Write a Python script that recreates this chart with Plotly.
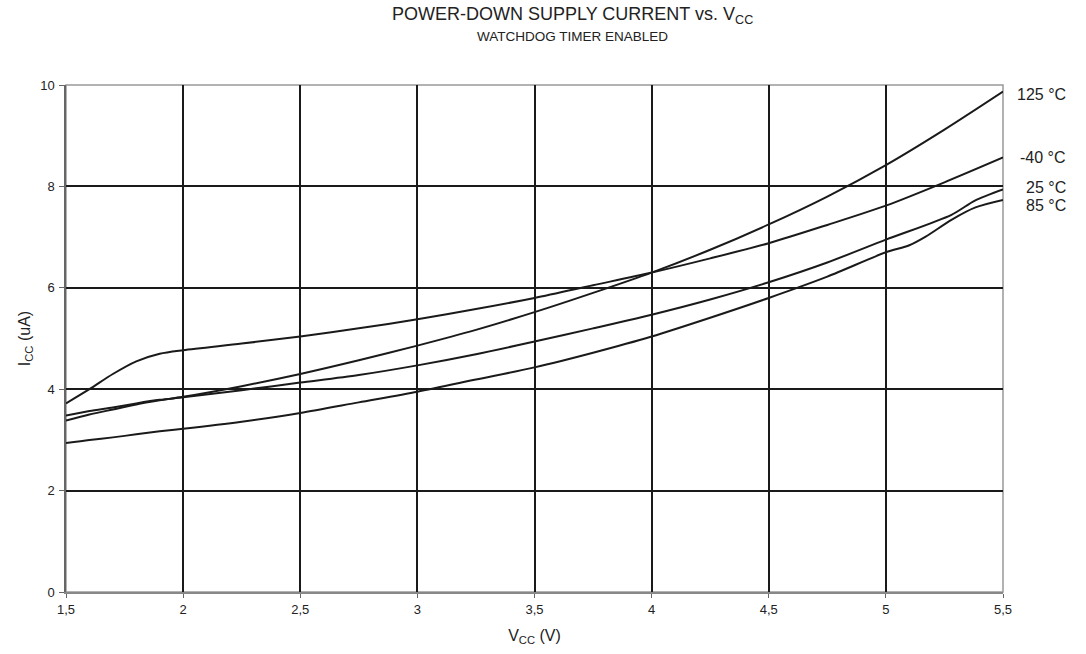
import plotly.graph_objects as go

V = [1.5, 1.6, 1.7, 1.8, 1.9, 2.0, 2.25, 2.5, 2.75, 3.0, 3.25, 3.5, 3.75, 4.0, 4.25, 4.5, 4.75, 5.0, 5.25, 5.5]
I_m40 = [3.72, 4.0, 4.3, 4.55, 4.70, 4.77, 4.9, 5.04, 5.2, 5.38, 5.58, 5.8, 6.05, 6.30, 6.58, 6.88, 7.24, 7.62, 8.08, 8.57]
I_125 = [3.38, 3.5, 3.6, 3.7, 3.78, 3.85, 4.06, 4.3, 4.57, 4.86, 5.17, 5.52, 5.9, 6.30, 6.75, 7.25, 7.8, 8.42, 9.12, 9.87]
V_25 = [1.5, 1.6, 1.7, 1.8, 1.9, 2.0, 2.25, 2.5, 2.75, 3.0, 3.25, 3.5, 3.75, 4.0, 4.25, 4.5, 4.75, 5.0, 5.28, 5.38, 5.5]
I_25 = [3.48, 3.57, 3.64, 3.72, 3.79, 3.84, 3.98, 4.13, 4.28, 4.47, 4.69, 4.94, 5.2, 5.47, 5.77, 6.11, 6.5, 6.95, 7.44, 7.72, 7.94]
V_85 = [1.5, 1.6, 1.7, 1.8, 1.9, 2.0, 2.25, 2.5, 2.75, 3.0, 3.25, 3.5, 3.75, 4.0, 4.25, 4.5, 4.75, 5.0, 5.1, 5.17, 5.28, 5.38, 5.5]
I_85 = [2.94, 3.0, 3.05, 3.11, 3.17, 3.22, 3.36, 3.53, 3.74, 3.95, 4.19, 4.43, 4.72, 5.04, 5.41, 5.80, 6.22, 6.70, 6.84, 7.01, 7.34, 7.58, 7.73]

x_ticks = [1.5, 2, 2.5, 3, 3.5, 4, 4.5, 5, 5.5]
x_ticktext = ["1,5", "2", "2,5", "3", "3,5", "4", "4,5", "5", "5,5"]
y_ticks = [0, 2, 4, 6, 8, 10]

series = [
    ("125 °C", V, I_125, -3),
    ("-40 °C", V, I_m40, 0),
    ("25 °C", V_25, I_25, 2),
    ("85 °C", V_85, I_85, -5),
]

FONT = "Liberation Sans, Arial, sans-serif"

fig = go.Figure()
for name, xs, ys, _ in series:
    fig.add_trace(go.Scatter(x=xs, y=ys, mode="lines", name=name,
                             line=dict(color="#1a1a1a", width=2, shape="spline", smoothing=0.8),
                             showlegend=False))

annotations = []
for name, xs, ys, shift in series:
    annotations.append(dict(x=1.069, xref="paper", y=ys[-1], yref="y", text=name,
                            showarrow=False, xanchor="right", yanchor="middle", yshift=shift,
                            font=dict(family=FONT, size=16, color="#222")))

annotations.append(dict(x=0.541, xref="paper", y=1.137, yref="paper",
                        text="POWER-DOWN SUPPLY CURRENT vs. V<sub>CC</sub>", showarrow=False,
                        xanchor="center", yanchor="middle", font=dict(family=FONT, size=18, color="#222")))
annotations.append(dict(x=0.541, xref="paper", y=1.095, yref="paper",
                        text="WATCHDOG TIMER ENABLED", showarrow=False,
                        xanchor="center", yanchor="middle", font=dict(family=FONT, size=13.5, color="#222")))

fig.update_layout(
    width=1086, height=654,
    margin=dict(l=66, r=83, t=85, b=62, autoexpand=False),
    paper_bgcolor="white", plot_bgcolor="white",
    font=dict(family=FONT, size=13, color="#222"),
    annotations=annotations,
    shapes=[dict(type="rect", xref="paper", yref="paper", x0=0, x1=1, y0=0, y1=1,
                 line=dict(color="#999", width=1.5), layer="below")],
)
fig.update_xaxes(range=[1.5, 5.5], tickvals=x_ticks, ticktext=x_ticktext,
                 showgrid=True, gridcolor="#1a1a1a", gridwidth=2,
                 ticks="outside", ticklen=4, tickcolor="#666",
                 showline=True, linecolor="#888", linewidth=2,
                 zeroline=False,
                 title=dict(text="V<sub>CC</sub> (V)", font=dict(size=16), standoff=14),
                 tickfont=dict(size=13))
fig.update_yaxes(range=[0, 10], tickvals=y_ticks,
                 showgrid=True, gridcolor="#1a1a1a", gridwidth=2,
                 ticks="outside", ticklen=5, tickcolor="#666",
                 showline=True, linecolor="#666", linewidth=1.5,
                 zeroline=False, ticklabelstandoff=2,
                 title=dict(text="I<sub>CC</sub> (uA)", font=dict(size=16), standoff=6),
                 tickfont=dict(size=13))

fig.write_html("out.html", config={"displayModeBar": False},
               post_script="document.body.style.margin='0px';")
